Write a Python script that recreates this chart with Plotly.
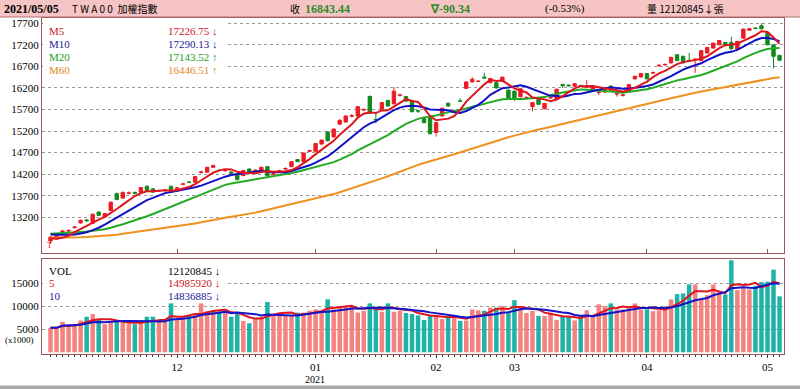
import plotly.graph_objects as go
import pandas as pd

# ---------------- data ----------------
holidays = ["2021-01-01", "2021-02-08", "2021-02-09", "2021-02-10", "2021-02-11",
            "2021-02-12", "2021-02-15", "2021-02-16", "2021-03-01", "2021-04-02", "2021-04-05"]
dates = [d for d in pd.bdate_range("2020-11-02", "2021-05-05") if d.strftime("%Y-%m-%d") not in holidays]

# closes of the 59 sessions before the first visible day (only used for the moving averages)
prior_closes = [12900, 12830, 12890, 12830, 12760, 12800, 12720, 12780, 12690, 12750,
                12560, 12530, 12620, 12720, 12680, 12770, 12800, 12590,
                12640, 12750, 12800, 12640, 12620, 12610, 12470, 12600, 12680, 12840,
                12920, 12960, 12880, 12870, 12780, 12600, 12400, 12250, 12300, 12420,
                12510, 12515,
                12670, 12730, 12710, 12800, 12900, 12920, 12950, 12870, 12910, 12870,
                12920, 12850, 12870, 12930, 12900, 12820, 12760, 12700, 12546]

opens = [12650, 12700, 12860, 12880, 12960, 13070, 13140, 13060, 13320, 13207,
         13360, 13750, 13645, 13760, 13780, 13780, 13920, 13860, 13810, 13820,
         13920, 13810, 13965, 14020, 14015, 14240, 14245, 14360, 14290, 14280,
         14250, 14205, 14170, 14320, 14280, 14285, 14375, 14200, 14270, 14320,
         14375, 14540, 14490, 14730, 14730, 14900, 15180, 15065, 15360, 15410,
         15545, 15550, 15690, 16000, 15470, 15705, 15910, 15830, 16025, 16000,
         15910, 15670, 15490, 15510, 15165, 15550, 15845, 15665, 15900, 16190,
         16340, 16350, 16450, 16320, 16320, 16355, 16150, 16125, 15995, 15970,
         15765, 15935, 15720, 15970, 15935, 16280, 16265, 16240, 16260, 16220,
         16140, 16090, 16105, 16245, 16060, 16030, 16105, 16410, 16455, 16535,
         16545, 16715, 16735, 16780, 16970, 16935, 16840, 16860, 16835, 17010,
         17125, 17200, 17255, 17255, 17100, 17355, 17540, 17590, 17640, 17485,
         17200, 16955]
highs = [12760, 12800, 12910, 12920, 13000, 13150, 13160, 13290, 13340, 13300,
         13560, 13770, 13790, 13800, 13790, 13900, 13940, 13870, 13840, 13850,
         13930, 13900, 14000, 14040, 14160, 14280, 14370, 14420, 14320, 14310,
         14270, 14220, 14300, 14330, 14310, 14370, 14390, 14240, 14300, 14360,
         14500, 14550, 14700, 14770, 14920, 15000, 15190, 15260, 15470, 15560,
         15590, 15780, 15730, 16030, 15610, 15870, 15930, 16220, 16070, 16010,
         15920, 15700, 15500, 15520, 15410, 15740, 15860, 15700, 15960, 16350,
         16450, 16380, 16550, 16430, 16330, 16460, 16160, 16140, 16190, 16010,
         15870, 15950, 15850, 16000, 16180, 16300, 16280, 16310, 16270, 16380,
         16230, 16130, 16215, 16255, 16090, 16060, 16290, 16480, 16545, 16545,
         16580, 16750, 16770, 16920, 16980, 16945, 17010, 16890, 17080, 17150,
         17250, 17310, 17265, 17390, 17290, 17575, 17590, 17610, 17700, 17500,
         17210, 16970]
lows = [12580, 12680, 12840, 12860, 12940, 13050, 13100, 13050, 13230, 13190,
        13350, 13600, 13630, 13730, 13730, 13770, 13810, 13770, 13790, 13800,
        13800, 13790, 13940, 13990, 14000, 14210, 14230, 14340, 14260, 14250,
        14200, 14050, 14150, 14230, 14260, 14270, 14150, 14180, 14250, 14300,
        14360, 14480, 14480, 14710, 14720, 14880, 14960, 15050, 15340, 15400,
        15520, 15540, 15660, 15600, 15380, 15690, 15770, 15820, 16000, 15880,
        15630, 15620, 15380, 15120, 15070, 15540, 15770, 15640, 15870, 16180,
        16330, 16330, 16420, 16310, 16190, 16340, 15920, 15900, 15980, 15940,
        15660, 15810, 15700, 15950, 15920, 16200, 16230, 16230, 16220, 16200,
        16130, 16040, 16090, 16140, 16000, 16000, 16090, 16400, 16440, 16400,
        16520, 16690, 16710, 16770, 16820, 16770, 16810, 16550, 16820, 17000,
        17110, 17190, 17170, 17070, 17090, 17340, 17520, 17560, 17560, 17190,
        16650, 16820]
closes = [12740, 12780, 12880, 12895, 12975, 13130, 13120, 13270, 13245, 13285,
          13550, 13610, 13780, 13765, 13760, 13890, 13820, 13785, 13820, 13830,
          13820, 13885, 13975, 14010, 14145, 14250, 14360, 14400, 14285, 14290,
          14220, 14075, 14285, 14245, 14290, 14360, 14170, 14210, 14280, 14330,
          14490, 14490, 14690, 14745, 14910, 14990, 14975, 15245, 15450, 15550,
          15555, 15765, 15695, 15610, 15460, 15860, 15780, 16125, 16035, 15895,
          15650, 15665, 15395, 15140, 15395, 15730, 15780, 15670, 15890, 16340,
          16400, 16355, 16430, 16420, 16200, 16450, 15935, 15935, 16180, 15975,
          15860, 15820, 15840, 15975, 16170, 16250, 16250, 16300, 16240, 16225,
          16220, 16100, 16205, 16150, 16065, 16035, 16280, 16470, 16535, 16410,
          16555, 16725, 16745, 16910, 16835, 16780, 16825, 16865, 17065, 17140,
          17240, 17300, 17210, 17110, 17280, 17565, 17575, 17580, 17570, 17200,
          16933.78, 16843.44]
# volume in thousands
volumes = [5300, 5300, 6600, 5900, 5900, 6900, 7700, 8300, 7000, 6100,
           6600, 6600, 6600, 6100, 6100, 6600, 7700, 7700, 6600, 6600,
           10600, 7000, 7700, 8000, 8300, 10600, 8900, 8900, 8900, 8900,
           7700, 8300, 6800, 6300, 7400, 7700, 10900, 8300, 8000, 7900,
           7900, 8600, 8600, 9000, 9300, 9000, 11500, 9300, 9900, 9800,
           9900, 8600, 9000, 10600, 9500, 8800, 10600, 8800, 9000, 8500,
           8300, 8000, 7000, 8000, 8000, 7200, 7700, 7700, 6800, 6900,
           9300, 9100, 9000, 9700, 9700, 10000, 8500, 11300, 9700, 8500,
           9000, 7900, 7900, 8600, 7000, 7700, 7700, 6900, 7900, 9100,
           7700, 10400, 10000, 10600, 9300, 9300, 9700, 10600, 9300, 9300,
           8900, 9100, 9900, 11450, 12600, 12750, 14710, 14710, 11300, 12390,
           14710, 13110, 12540, 19950, 13480, 13850, 13630, 14400, 15200, 15300,
           17900, 12121]

price_ticks = [13200, 13700, 14200, 14700, 15200, 15700, 16200, 16700, 17200, 17700]
vol_ticks = [5000, 10000, 15000]
month_labels = ["12", "01", "02", "03", "04", "05"]
ma_names = ["M5", "M10", "M20", "M60"]
ma_values_text = ["17226.75 ↓", "17290.13 ↓", "17143.52 ↑", "16446.51 ↑"]
vol_names = ["VOL", "5", "10"]
vol_values_text = ["12120845 ↓", "14985920 ↓", "14836885 ↓"]

# ---------------- derived ----------------
n = len(dates)
idx = list(range(n))
month_idx = []
for i, d in enumerate(dates):
    if i > 0 and d.month != dates[i - 1].month:
        month_idx.append(i)

allc = pd.Series(prior_closes + closes)
npre = len(prior_closes)
ma = {p: allc.rolling(p, min_periods=1).mean().iloc[npre:].tolist() for p in (5, 10, 20, 60)}
vs = pd.Series(volumes)
vma5 = vs.rolling(5, min_periods=1).mean().tolist()
vma10 = vs.rolling(10, min_periods=1).mean().tolist()

W, H = 800, 389
def px(x):
    return x / W
def py(y):
    return 1 - y / H

RED = "#ec1c24"
GRN = "#138a1c"
PINK = "#f4837f"
TEAL = "#1fb3a8"
BORDER = "#9b5656"
SERIF = "Liberation Serif, Times New Roman, serif"
CJK = "Noto Sans CJK TC, sans-serif"

x_left, x_right = 42, 784
c0, dx = 50.5, 6.025
xr = [(x_left - c0) / dx, (x_right - c0) / dx]

fig = go.Figure()
fig.add_trace(go.Candlestick(
    x=idx, open=opens, high=highs, low=lows, close=closes,
    increasing=dict(line=dict(color=RED, width=1), fillcolor=RED),
    decreasing=dict(line=dict(color=GRN, width=1), fillcolor=GRN),
    whiskerwidth=0, showlegend=False, hoverinfo="skip", xaxis="x", yaxis="y"))
ma_colors = {60: "#f0901e", 20: "#22aa22", 10: "#1010c8", 5: "#e0141e"}
for p in (60, 20, 10, 5):
    fig.add_trace(go.Scatter(x=idx, y=ma[p], mode="lines", line=dict(color=ma_colors[p], width=2),
                             showlegend=False, hoverinfo="skip", xaxis="x", yaxis="y"))

bar_colors = [PINK if c >= o else TEAL for o, c in zip(opens, closes)]
fig.add_trace(go.Bar(x=idx, y=volumes, marker=dict(color=bar_colors, line=dict(width=0)), width=0.75,
                     showlegend=False, hoverinfo="skip", xaxis="x2", yaxis="y2"))
fig.add_trace(go.Scatter(x=idx, y=vma5, mode="lines", line=dict(color="#e0141e", width=2),
                         showlegend=False, hoverinfo="skip", xaxis="x2", yaxis="y2"))
fig.add_trace(go.Scatter(x=idx, y=vma10, mode="lines", line=dict(color="#1414c8", width=2),
                         showlegend=False, hoverinfo="skip", xaxis="x2", yaxis="y2"))

dom_x = [px(x_left), px(x_right)]
fig.update_layout(
    width=W, height=H, margin=dict(l=0, r=0, t=0, b=0, autoexpand=False),
    paper_bgcolor="white", plot_bgcolor="white", boxgap=0.2,
    xaxis=dict(domain=dom_x, range=xr, anchor="y", showgrid=False, zeroline=False,
               automargin=False,
               showline=True, mirror=True, linecolor=BORDER, linewidth=1,
               tickmode="array", tickvals=month_idx, ticks="inside", ticklen=4,
               tickcolor=BORDER, showticklabels=False, rangeslider=dict(visible=False)),
    yaxis=dict(domain=[py(253), py(18)], range=[12372, 17822], anchor="x", automargin=False,
               tickmode="array", tickvals=price_ticks, ticktext=[str(v) for v in price_ticks],
               ticks="", showgrid=True,
               gridcolor="#9a9a9a", griddash="dot", gridwidth=1, zeroline=False,
               showline=True, mirror=True, linecolor=BORDER, linewidth=1,
               tickfont=dict(family=SERIF, size=11, color="black")),
    xaxis2=dict(domain=dom_x, range=xr, anchor="y2", showgrid=False, zeroline=False,
                automargin=False,
                showline=True, mirror=True, linecolor=BORDER, linewidth=1,
                tickmode="array", tickvals=month_idx, ticktext=month_labels,
                ticks="outside", ticklen=3, tickcolor="#333",
                tickfont=dict(family=SERIF, size=11, color="black"),
                minor=dict(tickmode="array", tickvals=idx, ticks="outside", ticklen=2,
                           tickcolor="#333")),
    yaxis2=dict(domain=[py(354), py(259)], range=[-370, 20218], anchor="x2", automargin=False,
                tickmode="array", tickvals=vol_ticks, ticktext=[str(v) for v in vol_ticks],
                ticks="", showgrid=True,
                gridcolor="#9a9a9a", griddash="dot", gridwidth=1, zeroline=False,
                showline=True, mirror=True, linecolor=BORDER, linewidth=1,
                tickfont=dict(family=SERIF, size=11, color="black")),
)

shapes = [
    dict(type="rect", xref="paper", yref="paper", x0=0, x1=1, y0=py(17), y1=1,
         fillcolor="#f6c4c4", line=dict(width=0), layer="above"),
    dict(type="line", xref="paper", yref="paper", x0=0, x1=1, y0=py(17), y1=py(17),
         line=dict(color="#b07070", width=1), layer="above"),
    dict(type="rect", xref="paper", yref="paper", x0=px(43), x1=px(226), y0=py(77), y1=py(19),
         fillcolor="white", line=dict(width=0), layer="above"),
    dict(type="rect", xref="paper", yref="paper", x0=px(43), x1=px(228), y0=py(301), y1=py(260),
         fillcolor="white", line=dict(width=0), layer="above"),
    dict(type="rect", xref="paper", yref="paper", x0=0, x1=1, y0=0, y1=py(385.5),
         fillcolor="#a8a8a8", line=dict(width=0), layer="above"),
]
fig.update_layout(shapes=shapes)

ann = []
def text(x, y, s, color="black", size=11, family=SERIF, anchor="left", bold=False):
    if bold:
        s = "<b>" + s + "</b>"
    ann.append(dict(xref="paper", yref="paper", x=px(x), y=py(y), text=s, showarrow=False,
                    xanchor=anchor, yanchor="middle", font=dict(family=family, size=size, color=color)))

HG = "#2c8c2c"
text(2, 8.5, "2021/05/05", bold=True, size=12)
text(70, 8.5, "T W A 0 0  加權指數", family=CJK, size=10)
text(288, 8.5, "收", family=CJK, size=10)
text(303, 8.5, "16843.44", color=HG, bold=True, size=12)
text(428, 8.5, "∇-90.34", color=HG, bold=True, size=12)
text(543, 8.5, "(-0.53%)", size=11)
text(645, 8.5, "量 12120845↓張", family=CJK, size=10)

ma_text_colors = ["#d0141e", "#1a1a9a", "#1a9a1a", "#e08a20"]
for k, (nm, val, yy) in enumerate(zip(ma_names, ma_values_text, [30.7, 43.5, 57, 70.5])):
    text(47, yy, nm, color=ma_text_colors[k], size=11)
    text(220, yy, val, color=ma_text_colors[k], size=11, anchor="right")

vol_text_colors = ["black", "#d0141e", "#1a1a9a"]
for k, (nm, val, yy) in enumerate(zip(vol_names, vol_values_text, [270.5, 283.3, 296])):
    text(47, yy, nm, color=vol_text_colors[k], size=11)
    text(222, yy, val, color=vol_text_colors[k], size=11, anchor="right")

text(36, 339.5, "(x1000)", size=9, anchor="right")
text(315, 379, "2021", size=10, anchor="center")
text(49, 245, "T", color=RED, size=8, anchor="center")
fig.update_layout(annotations=ann)

fig.write_html("out.html", config={"displayModeBar": False},
               post_script="document.body.style.margin='0px';document.body.style.padding='0px';document.body.style.overflow='hidden';")
